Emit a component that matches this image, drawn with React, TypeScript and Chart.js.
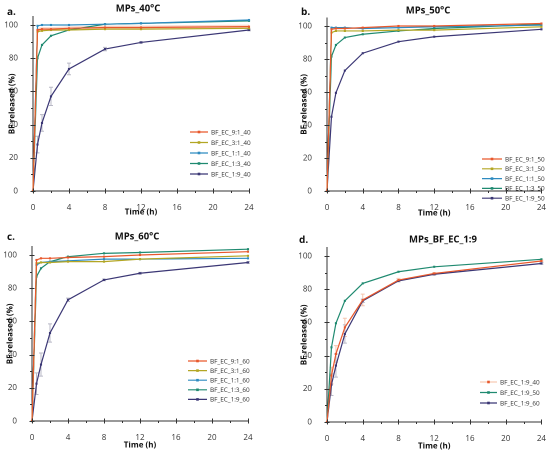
import React, { useEffect, useRef } from "react";
import { Chart, registerables } from "chart.js";
Chart.register(...registerables);

const TIME = [0, 0.5, 1, 2, 4, 8, 12, 24];
const X_TICKS = [0, 4, 8, 12, 16, 20, 24];
const X_MINOR = [2, 6, 10, 14, 18, 22];
const Y_TICKS = [0, 20, 40, 60, 80, 100];
const Y_MINOR = [10, 30, 50, 70, 90];

// Panel a: 40 °C
const a_91 = [0, 97, 97.5, 97.5, 98, 98.5, 98.5, 99];
const a_91_err = [0, 1.2, 1.2, 1.2, 1.2, 1.2, 1.2, 1.2];
const a_31 = [0, 96, 96.5, 97, 97, 97.5, 97.5, 98];
const a_11 = [0, 99.5, 100, 100, 100, 100.5, 101, 103];
const a_13 = [0, 80, 88, 93.5, 97, 100.5, 101, 102.5];
const a_19 = [0, 28, 41, 57, 73.5, 85.5, 89.5, 97];
const a_19_err = [0, 5, 5, 5.5, 3.5, 1, 0.5, 0.5];

// Panel b: 50 °C
const b_91 = [0, 98, 98.5, 98.5, 99, 100, 100, 101.5];
const b_31 = [0, 96, 97, 97, 97, 97.5, 97.5, 99.5];
const b_11 = [0, 99, 99, 99, 98.5, 99, 99.5, 100.5];
const b_13 = [0, 81.5, 88.5, 93, 95, 97, 98.5, 101];
const b_19 = [0, 45, 59.5, 73, 83.5, 90.5, 93.5, 98];

// Panel c: 60 °C
const c_91 = [0, 97, 98, 98, 98.5, 99, 100, 102];
const c_31 = [0, 95, 95.5, 95.5, 96, 96, 97.5, 99.5];
const c_11 = [0, 94, 95.5, 96, 96.5, 97.5, 97.5, 98];
const c_13 = [0, 87, 92, 96, 99, 101, 101.5, 103.5];
const c_19 = [0, 22.5, 34, 53, 73, 85, 89, 95.5];
const c_19_err = [0, 6.5, 7, 5.5, 1, 0.5, 0.5, 0.5];

const C_91 = "#E8582C";
const C_31 = "#B3A624";
const C_11 = "#2E8BC0";
const C_13 = "#1F8A70";
const C_19 = "#3B3775";

const FONT = "'Open Sans', 'DejaVu Sans', sans-serif";

function ds(label: string, data: number[], color: string, err?: number[], errColor?: string) {
  return {
    label,
    data: data.map((v, i) => ({ x: TIME[i], y: v })),
    borderColor: color,
    backgroundColor: color,
    borderWidth: 1.2,
    pointStyle: "rect",
    pointRadius: 1.5,
    pointBorderWidth: 0,
    clip: false as any,
    errors: err,
    errColor: errColor || "#b9b9c6",
  } as any;
}

const decor = {
  id: "decor",
  beforeDatasetsDraw(chart: any) {
    const ctx = chart.ctx;
    const xs = chart.scales.x, ys = chart.scales.y;
    ctx.save();
    chart.data.datasets.forEach((d: any) => {
      if (d.band) {
        ctx.fillStyle = d.band;
        ctx.beginPath();
        const pts = d.data.slice(1);
        pts.forEach((p: any, i: number) => {
          const e = d.bandErr[i + 1];
          const px = xs.getPixelForValue(p.x), py = ys.getPixelForValue(p.y + e);
          if (i === 0) ctx.moveTo(px, py); else ctx.lineTo(px, py);
        });
        for (let i = pts.length - 1; i >= 0; i--) {
          const p = pts[i];
          const e = d.bandErr[i + 1];
          ctx.lineTo(xs.getPixelForValue(p.x), ys.getPixelForValue(p.y - e));
        }
        ctx.closePath();
        ctx.fill();
      }
      if (!d.errors) return;
      ctx.strokeStyle = d.errColor;
      ctx.lineWidth = 1;
      d.data.forEach((p: any, i: number) => {
        const e = d.errors[i];
        if (!e) return;
        const px = xs.getPixelForValue(p.x);
        const y1 = ys.getPixelForValue(p.y - e), y2 = ys.getPixelForValue(p.y + e);
        ctx.beginPath();
        ctx.moveTo(px, y1); ctx.lineTo(px, y2);
        ctx.moveTo(px - 2, y1); ctx.lineTo(px + 2, y1);
        ctx.moveTo(px - 2, y2); ctx.lineTo(px + 2, y2);
        ctx.stroke();
      });
    });
    ctx.restore();
  },
  afterDraw(chart: any, _a: any, opts: any) {
    const ctx = chart.ctx;
    const xs = chart.scales.x, ys = chart.scales.y;
    const area = chart.chartArea;
    ctx.save();
    ctx.strokeStyle = "#333";
    ctx.lineWidth = 1;
    ctx.beginPath();
    X_TICKS.forEach((v) => {
      const px = Math.round(xs.getPixelForValue(v)) + 0.5;
      ctx.moveTo(px, area.bottom - 2.5); ctx.lineTo(px, area.bottom + 2.5);
    });
    X_MINOR.forEach((v) => {
      const px = Math.round(xs.getPixelForValue(v)) + 0.5;
      ctx.moveTo(px, area.bottom); ctx.lineTo(px, area.bottom + 2);
    });
    Y_TICKS.forEach((v) => {
      const py = Math.round(ys.getPixelForValue(v)) + 0.5;
      ctx.moveTo(area.left - 2.5, py); ctx.lineTo(area.left + 2.5, py);
    });
    Y_MINOR.forEach((v) => {
      const py = Math.round(ys.getPixelForValue(v)) + 0.5;
      ctx.moveTo(area.left - 2, py); ctx.lineTo(area.left, py);
    });
    ctx.stroke();

    // panel label and title
    ctx.fillStyle = "#111";
    ctx.textBaseline = "middle";
    ctx.font = `bold 10px ${FONT}`;
    ctx.textAlign = "left";
    ctx.fillText(opts.label, opts.labelX, opts.labelY);
    ctx.textAlign = "center";
    ctx.font = `bold 9.5px ${FONT}`;
    ctx.fillText(opts.title, opts.titleX, opts.titleY);

    // axis titles
    ctx.font = `bold 8px ${FONT}`;
    ctx.fillText("Time (h)", (area.left + area.right) / 2, opts.xTitleY);
    ctx.save();
    ctx.translate(opts.yTitleX, (area.top + area.bottom) / 2);
    ctx.rotate(-Math.PI / 2);
    ctx.fillText("BF released (%)", 0, 0);
    ctx.restore();

    // legend
    ctx.font = `6.4px ${FONT}`;
    ctx.textAlign = "left";
    chart.data.datasets.forEach((d: any, i: number) => {
      const y = opts.legY + i * opts.legRow;
      ctx.strokeStyle = d.legendLine || d.borderColor;
      ctx.lineWidth = 1.2;
      ctx.beginPath();
      ctx.moveTo(opts.legX, y); ctx.lineTo(opts.legX + opts.legLen, y);
      ctx.stroke();
      ctx.fillStyle = d.borderColor;
      ctx.fillRect(opts.legX + opts.legLen / 2 - 1.3, y - 1.3, 2.6, 2.6);
      ctx.fillStyle = "#333";
      ctx.fillText(d.label, opts.legX + opts.legLen + 3, y + 0.5);
    });
    ctx.restore();
  },
};

interface Panel {
  left: number; top: number; w: number; h: number;
  L: number; R: number; y0: number; y100: number;
  label: string; labelX: number; labelY: number;
  title: string; titleX: number; titleY: number;
  xTitleY: number; yTitleX: number;
  legX: number; legY: number; legRow: number; legLen: number;
  datasets: any[];
}

const panels: Panel[] = [
  {
    left: 0, top: 0, w: 275, h: 225, L: 33, R: 249, y0: 191, y100: 25,
    label: "a.", labelX: 7, labelY: 12, title: "MPs_40°C", titleX: 138, titleY: 9,
    xTitleY: 212, yTitleX: 12, legX: 190, legY: 132, legRow: 10.5, legLen: 18,
    datasets: [
      Object.assign(ds("BF_EC_9:1_40", a_91, C_91), { band: "rgba(240,150,110,0.35)", bandErr: a_91_err }),
      ds("BF_EC_3:1_40", a_31, C_31),
      ds("BF_EC_1:1_40", a_11, C_11),
      ds("BF_EC_1:3_40", a_13, C_13),
      ds("BF_EC_1:9_40", a_19, C_19, a_19_err),
    ],
  },
  {
    left: 275, top: 0, w: 275, h: 225, L: 52, R: 267, y0: 191, y100: 26,
    label: "b.", labelX: 26, labelY: 12, title: "MPs_50°C", titleX: 153, titleY: 11,
    xTitleY: 213, yTitleX: 29, legX: 207, legY: 159, legRow: 9.8, legLen: 20,
    datasets: [
      ds("BF_EC_9:1_50", b_91, C_91),
      ds("BF_EC_3:1_50", b_31, C_31),
      ds("BF_EC_1:1_50", b_11, C_11),
      ds("BF_EC_1:3_50", b_13, C_13),
      ds("BF_EC_1:9_50", b_19, C_19),
    ],
  },
  {
    left: 0, top: 225, w: 275, h: 230, L: 32, R: 248, y0: 196, y100: 30,
    label: "c.", labelX: 7, labelY: 12, title: "MPs_60°C", titleX: 137, titleY: 12,
    xTitleY: 220, yTitleX: 10, legX: 188, legY: 136, legRow: 9.6, legLen: 19,
    datasets: [
      ds("BF_EC_9:1_60", c_91, C_91),
      ds("BF_EC_3:1_60", c_31, C_31),
      ds("BF_EC_1:1_60", c_11, C_11),
      ds("BF_EC_1:3_60", c_13, C_13),
      ds("BF_EC_1:9_60", c_19, C_19, c_19_err),
    ],
  },
  {
    left: 275, top: 225, w: 275, h: 230, L: 52, R: 268, y0: 197, y100: 31,
    label: "d.", labelX: 24, labelY: 15, title: "MPs_BF_EC_1:9", titleX: 168, titleY: 15,
    xTitleY: 221, yTitleX: 29, legX: 205, legY: 157, legRow: 10.5, legLen: 17,
    datasets: [
      Object.assign(ds("BF_EC_1:9_40", a_19, C_91, a_19_err, "#f5c6b0"), { legendLine: "#f6c9b4" }),
      ds("BF_EC_1:9_50", b_19, C_13),
      ds("BF_EC_1:9_60", c_19, C_19, c_19_err),
    ],
  },
];

function PanelChart({ p }: { p: Panel }) {
  const ref = useRef<HTMLCanvasElement>(null);
  useEffect(() => {
    if (!ref.current) return;
    const top = p.y0 - 1.05 * (p.y0 - p.y100);
    const chart = new Chart(ref.current, {
      type: "line",
      data: { datasets: p.datasets },
      plugins: [decor as any],
      options: {
        responsive: false,
        animation: false,
        devicePixelRatio: 2,
        layout: { padding: { left: 0, right: p.w - p.R, top, bottom: 0 } },
        plugins: {
          legend: { display: false },
          tooltip: { enabled: false },
          decor: p as any,
        } as any,
        scales: {
          x: {
            type: "linear",
            min: 0,
            max: 24,
            afterFit: (s: any) => { s.height = p.h - p.y0; },
            afterBuildTicks: (s: any) => { s.ticks = X_TICKS.map((v) => ({ value: v })); },
            grid: { display: false },
            border: { display: true, color: "#333", width: 1 },
            ticks: { color: "#333", padding: 4, maxRotation: 0, font: { family: FONT, size: 8 } },
            title: { display: false },
          },
          y: {
            type: "linear",
            min: 0,
            max: 105,
            afterFit: (s: any) => { s.width = p.L; },
            afterBuildTicks: (s: any) => { s.ticks = Y_TICKS.map((v) => ({ value: v })); },
            grid: { display: false },
            border: { display: true, color: "#333", width: 1 },
            ticks: { color: "#333", padding: 7, font: { family: FONT, size: 8 } },
            title: { display: false },
          },
        },
      } as any,
    });
    return () => chart.destroy();
  }, []);
  return (
    <canvas
      ref={ref}
      width={p.w}
      height={p.h}
      style={{ position: "absolute", left: p.left, top: p.top, width: p.w, height: p.h }}
    />
  );
}

export default function App() {
  return (
    <div style={{ position: "fixed", left: 0, top: 0, width: 550, height: 455, background: "#fff" }}>
      {panels.map((p, i) => (
        <PanelChart key={i} p={p} />
      ))}
    </div>
  );
}
